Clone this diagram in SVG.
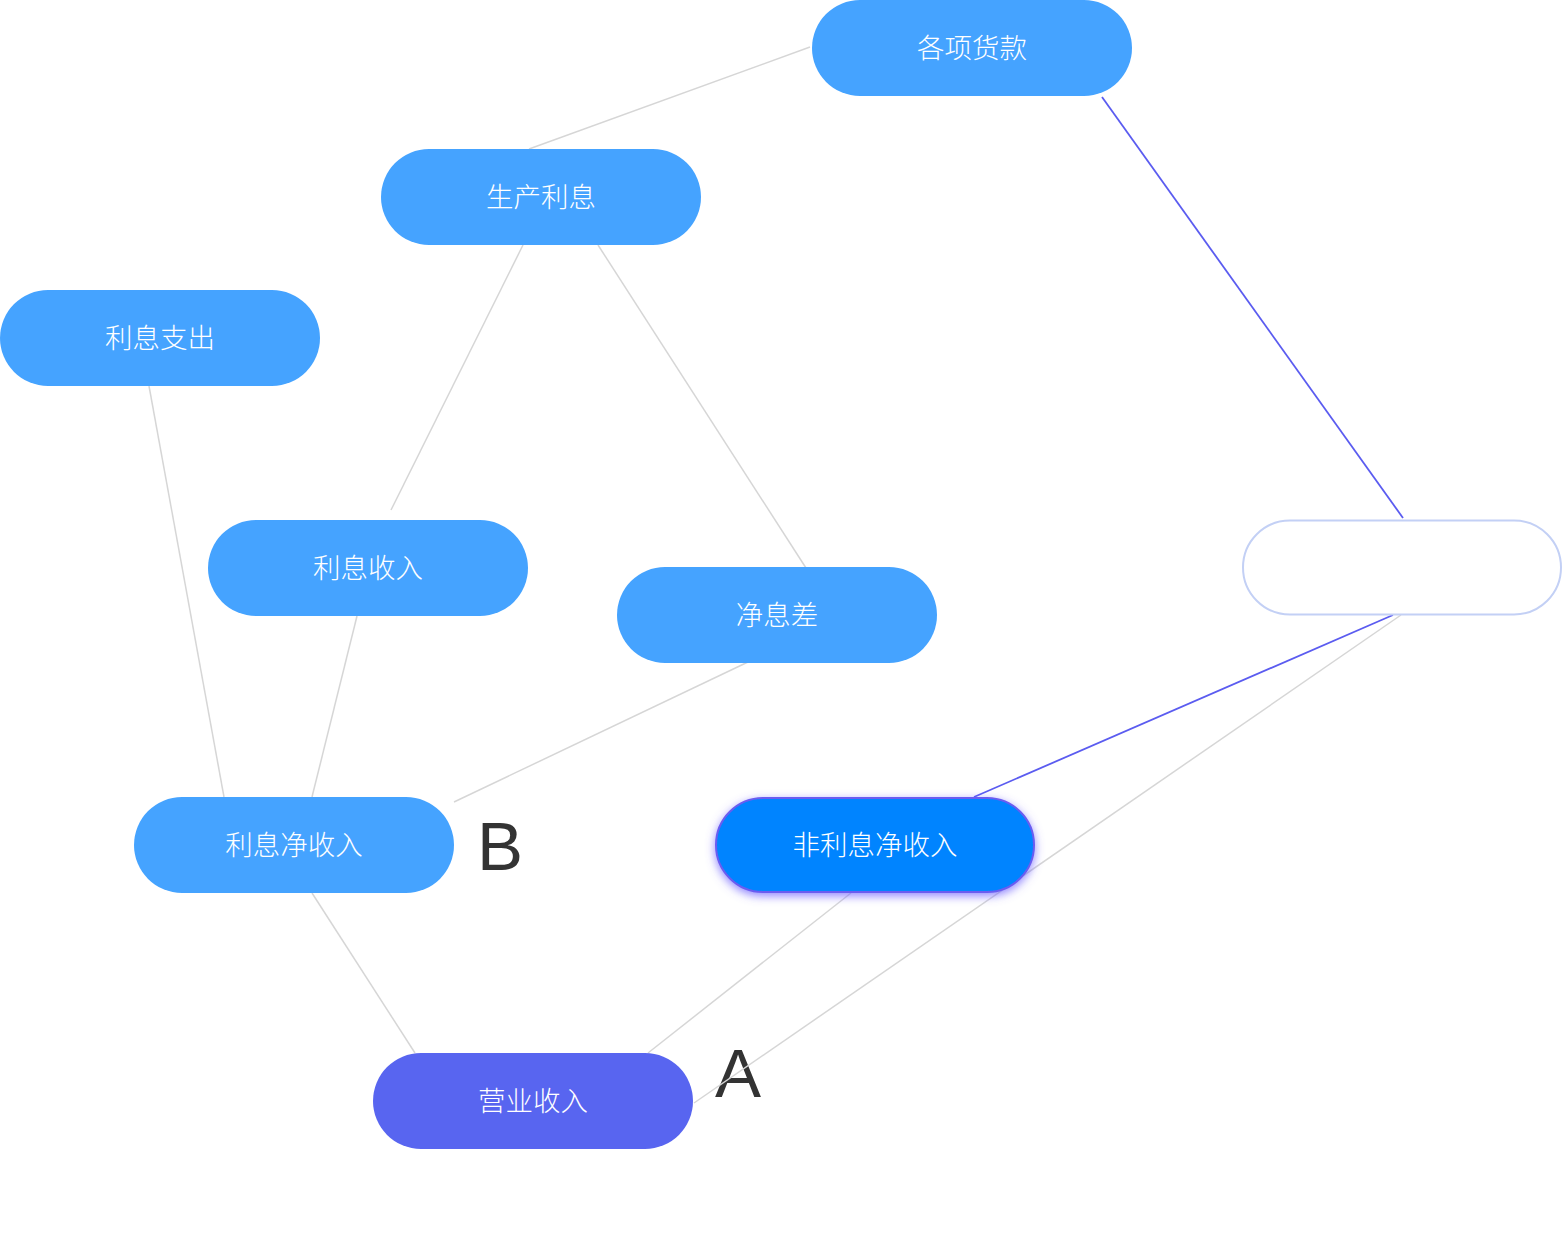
<svg xmlns="http://www.w3.org/2000/svg" width="1562" height="1237" viewBox="0 0 1562 1237">
<style>
.node rect{fill:#45a3ff}
.node text{fill:#ffffff;font-family:"Noto Sans CJK SC","Noto Sans",sans-serif;font-size:27.5px;font-weight:300;text-anchor:middle;dominant-baseline:central}
.edge{fill:none;stroke:#d6d6d6;stroke-width:1.5}
.edge.hl{stroke:#5b5cf0;stroke-width:1.8}
.big{fill:#333333;font-family:"Liberation Sans",Arial,sans-serif;font-size:69px}
</style>
<defs>
<filter id="glow" x="-20%" y="-40%" width="140%" height="180%">
<feGaussianBlur in="SourceAlpha" stdDeviation="5"/>
<feOffset dy="3" result="b"/>
<feFlood flood-color="#6a5cff" flood-opacity="0.75"/>
<feComposite in2="b" operator="in"/>
<feMerge><feMergeNode/><feMergeNode in="SourceGraphic"/></feMerge>
</filter>
</defs>
<rect width="1562" height="1237" fill="#ffffff"/>
<g id="labels">
<text class="big" x="738" y="1097" text-anchor="middle">A</text>
<text class="big" x="500" y="870" text-anchor="middle">B</text>
</g>
<g id="connectors">
<line class="edge" x1="810" y1="47" x2="529" y2="149"/>
<line class="edge hl" x1="1102" y1="97" x2="1403" y2="518"/>
<line class="edge" x1="523" y1="245" x2="391" y2="510"/>
<line class="edge" x1="598" y1="245" x2="806" y2="568"/>
<line class="edge" x1="149" y1="386" x2="224" y2="797"/>
<line class="edge" x1="357" y1="616" x2="312" y2="797"/>
<line class="edge" x1="748" y1="662" x2="454" y2="802"/>
<line class="edge hl" x1="1393" y1="615" x2="974" y2="797"/>
<line class="edge" x1="1401" y1="615" x2="694" y2="1103"/>
<line class="edge" x1="851" y1="893" x2="648" y2="1053"/>
<line class="edge" x1="312" y1="893" x2="415" y2="1053"/>
</g>
<g id="n-gxhk" class="node"><rect x="812" y="0" width="320" height="96" rx="48"/><text x="972" y="46">各项货款</text></g>
<g id="n-sclx" class="node"><rect x="381" y="149" width="320" height="96" rx="48"/><text x="541" y="195">生产利息</text></g>
<g id="n-lxzc" class="node"><rect x="0" y="290" width="320" height="96" rx="48"/><text x="160" y="336">利息支出</text></g>
<g id="n-lxsr" class="node"><rect x="208" y="520" width="320" height="96" rx="48"/><text x="368" y="566">利息收入</text></g>
<g id="n-jxc" class="node"><rect x="617" y="567" width="320" height="96" rx="48"/><text x="777" y="613">净息差</text></g>
<g id="n-empty"><rect x="1243" y="520.5" width="318" height="94" rx="47" fill="#ffffff" stroke="#c3d0f5" stroke-width="2"/></g>
<g id="n-lxjsr" class="node"><rect x="134" y="797" width="320" height="96" rx="48"/><text x="294" y="843">利息净收入</text></g>
<g id="n-flxjsr" class="node"><rect x="716" y="798" width="318" height="94" rx="47" style="fill:#0084ff" stroke="#6a5cf0" stroke-width="2" filter="url(#glow)"/><text x="875" y="843">非利息净收入</text></g>
<g id="n-yysr" class="node"><rect x="373" y="1053" width="320" height="96" rx="48" style="fill:#5865f0"/><text x="533" y="1099">营业收入</text></g>
</svg>
